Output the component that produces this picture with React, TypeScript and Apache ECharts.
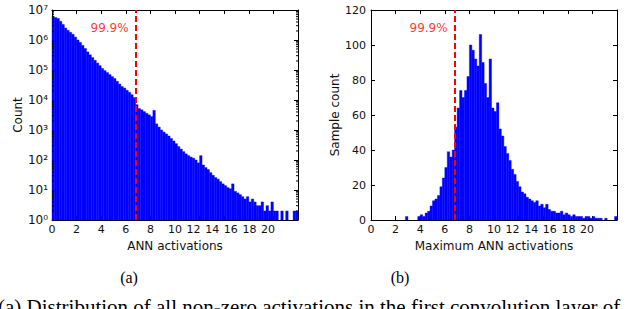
import React, { useEffect, useRef } from "react";
import * as echarts from "echarts";

// ---------------- data ----------------
const BIN_WIDTH = 0.2;

// (a) counts per 0.2-wide bin, from 0.0 to 20.0 (log scale)
const allActivationCounts = [
  6.0e6, 5.6e6, 5.2e6, 4.2e6, 3.3e6, 2.5e6, 2.1e6, 1.8e6, 1.55e6, 1.25e6,
  1.0e6, 8.3e5, 6.6e5, 5.2e5, 4.0e5, 3.2e5, 2.6e5, 2.1e5, 1.7e5, 1.4e5,
  1.12e5, 9.5e4, 8.2e4, 7.0e4, 6.0e4, 5.2e4, 4.2e4, 3.4e4, 2.8e4, 2.5e4,
  2.1e4, 1.8e4, 1.5e4, 1.2e4, 7.0e3, 5.2e3, 4.7e3, 4.1e3, 3.6e3, 3.2e3,
  2.8e3, 4.5e3, 1.6e3, 1.25e3, 1.0e3, 850, 740, 630, 520, 430,
  350, 280, 230, 190, 160, 140, 125, 115, 100, 80,
  140, 68, 56, 48, 38, 31, 26, 23, 19, 16,
  14, 12, 11, 16, 9, 8, 7, 6, 5, 6,
  4, 5, 4, 3, 3, 4, 2, 3, 2, 4,
  2, 2, 1, 2, 1, 2, 0, 1, 2, 2,
];

// (b) sample counts per 0.2-wide bin, from 0.0 to 20.0
const maxActivationCounts = [
  0, 0, 0, 0, 0, 0, 0, 0, 0, 0,
  0, 0, 0, 0, 2, 0, 0, 0, 0, 2,
  3, 2, 4, 5, 8, 11, 12, 14, 19, 24,
  30, 39, 36, 40, 53, 64, 74, 70, 74, 82,
  100, 97, 92, 88, 106, 90, 78, 70, 92, 64,
  62, 67, 52, 48, 42, 38, 34, 29, 26, 22,
  19, 16, 15, 13, 12, 11, 10, 11, 8, 9,
  7, 9, 6, 5, 5, 4, 4, 5, 3, 4,
  3, 2, 3, 2, 2, 2, 1, 2, 2, 1,
  2, 1, 1, 1, 0, 1, 0, 0, 0, 2,
];

const X_MIN = 0;
const X_MAX = 20;
const X_STEP = 2;
const LOG_MIN = 1;
const LOG_MAX = 1e7;
const LIN_MIN = 0;
const LIN_MAX = 120;
const LIN_STEP = 20;
const decadeExponents = [0, 1, 2, 3, 4, 5, 6];
const minorMultipliers = [2, 3, 4, 5, 6, 7, 8, 9];
const superscripts = ["⁰", "¹", "²", "³", "⁴", "⁵", "⁶", "⁷"];

const percentileValue = 6.8;
const percentileLabel = "99.9%";
const percentileLabelYLog = 2.5e6;
const percentileLabelYLin = 110;

const xNameA = "ANN activations";
const xNameB = "Maximum ANN activations";
const yNameA = "Count";
const yNameB = "Sample count";
const captionA = "(a)";
const captionB = "(b)";
const figureCaption =
  "(a) Distribution of all non-zero activations in the first convolution layer of";

// ---------------- styles ----------------
const BLUE = "#0000ff";
const RED = "#ff0000";
const INK = "#111111";
const FONT = "DejaVu Sans";
const SERIF = "Liberation Serif";

export default function App() {
  const ref = useRef<HTMLDivElement>(null);

  useEffect(() => {
    document.body.style.margin = "0";
    const chart = echarts.init(ref.current as HTMLDivElement, null, {
      renderer: "svg",
    });

    const toBins = (counts: number[]) =>
      counts.map((c, i) => [i * BIN_WIDTH, (i + 1) * BIN_WIDTH, c]);

    const histRender = (base: number) => (params: any, api: any) => {
      const c = api.value(2);
      if (!(c > base)) return null;
      const a = api.coord([api.value(0), c]);
      const b = api.coord([api.value(1), base]);
      return {
        type: "rect",
        shape: { x: a[0], y: a[1], width: b[0] - a[0], height: b[1] - a[1] },
        style: { fill: BLUE, stroke: BLUE, lineWidth: 0.4 },
      };
    };

    // crowded tick labels (as in the original figure, labels >= 10 are squeezed left)
    const xRich: Record<string, any> = {};
    for (let v = X_MIN; v <= X_MAX; v += X_STEP) {
      const shift = Math.max(0, v - 10) * 3;
      xRich["t" + v] = {
        fontFamily: FONT,
        fontSize: 11,
        color: INK,
        padding: [0, shift * 2, 0, 0],
      };
    }
    const xLabel = {
      show: true,
      margin: 4,
      formatter: (v: number) => `{t${v}|${v}}`,
      rich: xRich,
      showMinLabel: true,
      showMaxLabel: true,
    };

    const axisLine = { show: true, onZero: false, lineStyle: { color: "#000", width: 1 } };
    const majorTick = { show: true, inside: true, length: 4, lineStyle: { color: "#000", width: 1 } };
    const nameStyle = { fontFamily: FONT, fontSize: 12, color: INK };

    const xAxisBase = (gridIndex: number, position: "top" | "bottom") => ({
      type: "value",
      gridIndex,
      position,
      min: X_MIN,
      max: X_MAX,
      interval: X_STEP,
      axisLine,
      axisTick: majorTick,
      splitLine: { show: false },
      axisLabel: { show: false },
    });

    const minorTickData = decadeExponents.flatMap((e) =>
      minorMultipliers.map((m) => [X_MIN, m * Math.pow(10, e)])
    );

    const option: any = {
      animation: false,
      grid: [
        { left: 52, top: 10, width: 246, height: 210 },
        { left: 371, top: 10, width: 246, height: 210 },
      ],
      xAxis: [
        {
          ...xAxisBase(0, "bottom"),
          axisLabel: xLabel,
          name: xNameA,
          nameLocation: "middle",
          nameGap: 18,
          nameTextStyle: nameStyle,
        },
        xAxisBase(0, "top"),
        {
          ...xAxisBase(1, "bottom"),
          axisLabel: xLabel,
          name: xNameB,
          nameLocation: "middle",
          nameGap: 18,
          nameTextStyle: nameStyle,
        },
        xAxisBase(1, "top"),
      ],
      yAxis: [
        {
          type: "log",
          logBase: 10,
          gridIndex: 0,
          position: "left",
          min: LOG_MIN,
          max: LOG_MAX,
          splitNumber: 7,
          axisLine,
          axisTick: majorTick,
          splitLine: { show: false },
          axisLabel: {
            show: true,
            margin: 4,
            fontFamily: FONT,
            fontSize: 12,
            color: INK,
            formatter: (v: number) => "10" + superscripts[Math.round(Math.log10(v))],
          },
          name: yNameA,
          nameLocation: "middle",
          nameGap: 27,
          nameTextStyle: nameStyle,
        },
        {
          type: "log",
          logBase: 10,
          gridIndex: 0,
          position: "right",
          min: LOG_MIN,
          max: LOG_MAX,
          splitNumber: 7,
          axisLine,
          axisTick: majorTick,
          splitLine: { show: false },
          axisLabel: { show: false },
        },
        {
          type: "value",
          gridIndex: 1,
          position: "left",
          min: LIN_MIN,
          max: LIN_MAX,
          interval: LIN_STEP,
          axisLine,
          axisTick: majorTick,
          splitLine: { show: false },
          axisLabel: {
            show: true,
            margin: 5,
            fontFamily: FONT,
            fontSize: 11,
            color: INK,
          },
          name: yNameB,
          nameLocation: "middle",
          nameGap: 29,
          nameTextStyle: nameStyle,
        },
        {
          type: "value",
          gridIndex: 1,
          position: "right",
          min: LIN_MIN,
          max: LIN_MAX,
          interval: LIN_STEP,
          axisLine,
          axisTick: majorTick,
          splitLine: { show: false },
          axisLabel: { show: false },
        },
      ],
      series: [
        {
          type: "custom",
          xAxisIndex: 0,
          yAxisIndex: 0,
          encode: { x: [0, 1], y: 2 },
          data: toBins(allActivationCounts),
          renderItem: histRender(LOG_MIN),
          silent: true,
          markLine: {
            silent: true,
            symbol: "none",
            label: { show: false },
            lineStyle: { color: RED, type: [6, 3], width: 2 },
            data: [{ xAxis: percentileValue }],
          },
        },
        {
          type: "custom",
          xAxisIndex: 0,
          yAxisIndex: 0,
          encode: { x: 0, y: 1 },
          data: minorTickData,
          silent: true,
          renderItem: (params: any, api: any) => {
            const v = api.value(1);
            const l = api.coord([X_MIN, v]);
            const r = api.coord([X_MAX, v]);
            return {
              type: "group",
              children: [
                { type: "line", shape: { x1: l[0], y1: l[1], x2: l[0] + 2, y2: l[1] }, style: { stroke: "#000", lineWidth: 1 } },
                { type: "line", shape: { x1: r[0], y1: r[1], x2: r[0] - 2, y2: r[1] }, style: { stroke: "#000", lineWidth: 1 } },
              ],
            };
          },
        },
        {
          type: "scatter",
          xAxisIndex: 0,
          yAxisIndex: 0,
          symbolSize: 0,
          silent: true,
          data: [[percentileValue, percentileLabelYLog]],
          label: {
            show: true,
            position: "left",
            distance: 7,
            formatter: percentileLabel,
            color: RED,
            fontFamily: FONT,
            fontSize: 12,
          },
        },
        {
          type: "custom",
          xAxisIndex: 2,
          yAxisIndex: 2,
          encode: { x: [0, 1], y: 2 },
          data: toBins(maxActivationCounts),
          renderItem: histRender(LIN_MIN),
          silent: true,
          markLine: {
            silent: true,
            symbol: "none",
            label: { show: false },
            lineStyle: { color: RED, type: [6, 3], width: 2 },
            data: [{ xAxis: percentileValue }],
          },
        },
        {
          type: "scatter",
          xAxisIndex: 2,
          yAxisIndex: 2,
          symbolSize: 0,
          silent: true,
          data: [[percentileValue, percentileLabelYLin]],
          label: {
            show: true,
            position: "left",
            distance: 7,
            formatter: percentileLabel,
            color: RED,
            fontFamily: FONT,
            fontSize: 12,
          },
        },
      ],
      graphic: [
        {
          type: "text",
          x: 129,
          y: 277,
          style: { text: captionA, font: `16px "${SERIF}"`, fill: "#000", align: "center", verticalAlign: "middle" },
        },
        {
          type: "text",
          x: 400,
          y: 277,
          style: { text: captionB, font: `16px "${SERIF}"`, fill: "#000", align: "center", verticalAlign: "middle" },
        },
        {
          type: "text",
          x: -2,
          y: 307,
          style: { text: figureCaption, font: `21px "${SERIF}"`, fill: "#000", align: "left", verticalAlign: "middle" },
        },
      ],
    };

    chart.setOption(option);
    return () => chart.dispose();
  }, []);

  return <div ref={ref} style={{ width: 640, height: 309 }} />;
}
